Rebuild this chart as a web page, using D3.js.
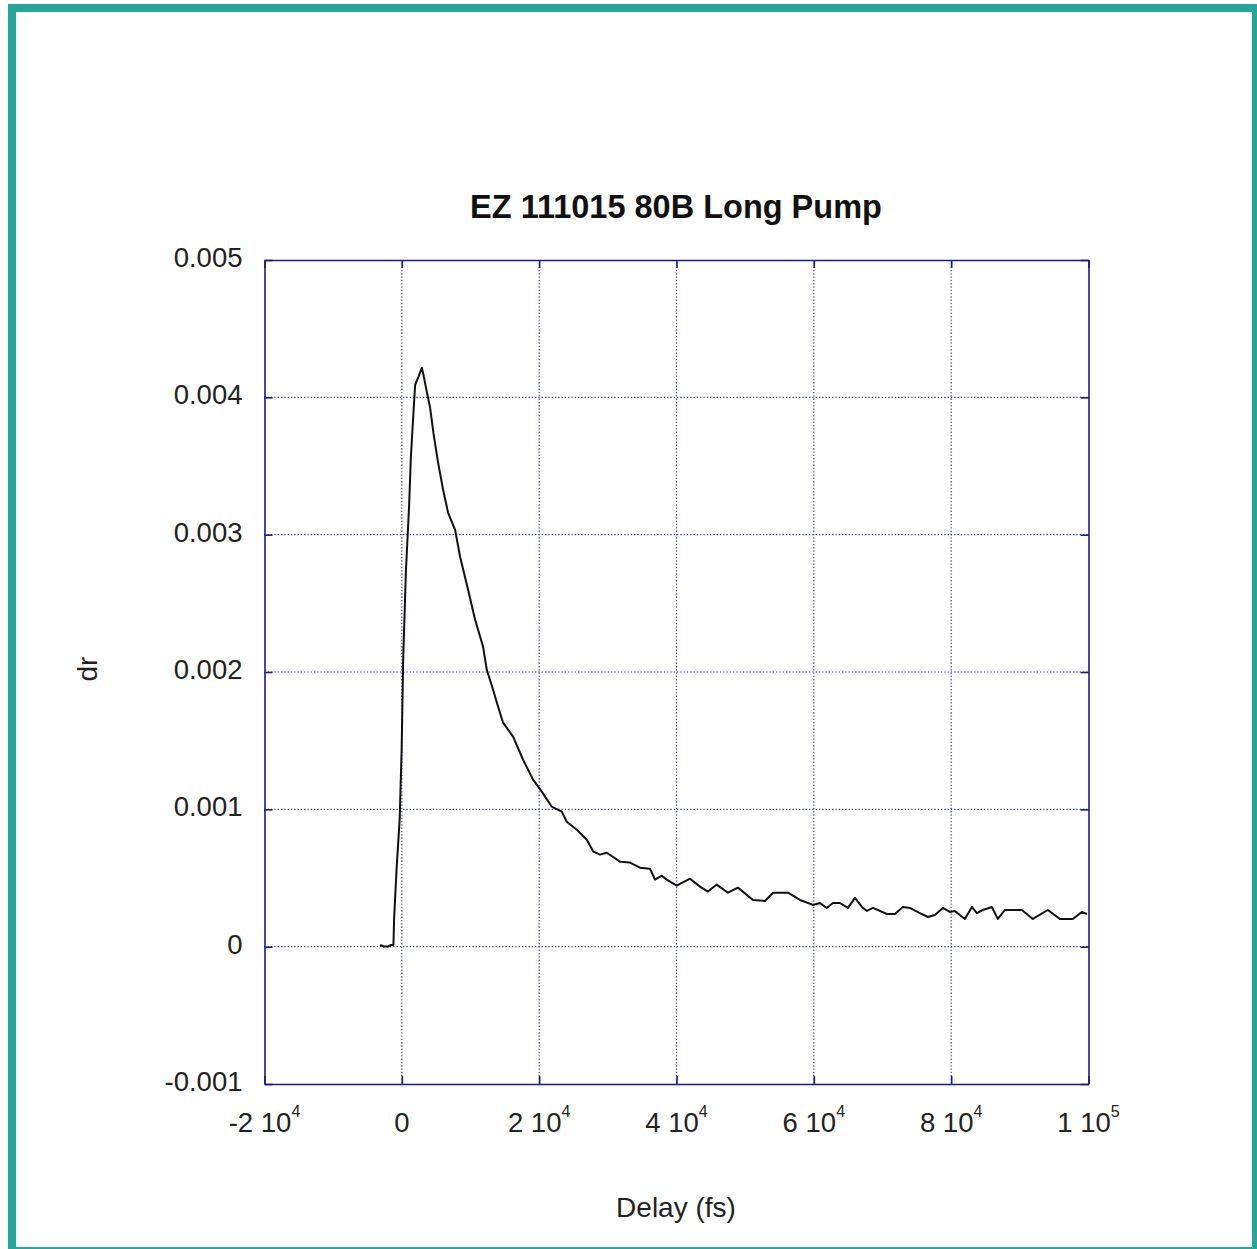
<!DOCTYPE html>
<html><head><meta charset="utf-8">
<script src="https://cdn.jsdelivr.net/npm/d3@7"></script>
<style>
html,body{margin:0;padding:0;background:#fff;}
svg{display:block;}
</style>
</head><body>
<script>
// ---- data ----
const title = "EZ 111015 80B Long Pump";
const xLabel = "Delay (fs)";
const yLabel = "dr";
const xTicks = [-20000, 0, 20000, 40000, 60000, 80000, 100000];
const xTickMant = ["-2", "0", "2", "4", "6", "8", "1"];
const xTickExp = ["4", "", "4", "4", "4", "4", "5"];
const yTicks = [-0.001, 0, 0.001, 0.002, 0.003, 0.004, 0.005];
const yTickLabels = ["-0.001", "0", "0.001", "0.002", "0.003", "0.004", "0.005"];
const delay = [-3159,-2576,-1994,-1557,-1223,-1121,-757,-320,-29,189,582,1063,1310,1689,1936,2416,2911,3144,3639,4119,4600,5284,6011,6740,7758,8486,9650,10669,11834,12373,13290,14018,14746,16201,17657,19113,20378,21834,23290,24017,25473,26929,27890,28865,29840,31776,33232,34688,36143,36871,37846,38574,40029,41965,43421,44586,45852,47497,48952,51136,52883,54047,56230,57977,59869,60888,61864,62781,63800,64964,65983,67002,67730,68603,70641,71806,72970,73989,75445,76609,77628,78793,79812,80539,81995,83014,83742,84615,85925,86798,87817,90292,91893,94076,95823,97715,99025,99753];
const dr = [0.000012,0.0000015,0.000002,0.000012,0.000012,0.000209,0.000573,0.000923,0.001432,0.002073,0.002721,0.003216,0.003559,0.003886,0.004090,0.004149,0.004215,0.004164,0.004040,0.003924,0.003741,0.003523,0.003327,0.003159,0.003035,0.002839,0.002599,0.002381,0.002184,0.002016,0.001871,0.001747,0.001631,0.001529,0.001361,0.001216,0.001129,0.001019,0.000983,0.000910,0.000852,0.000779,0.000692,0.000670,0.000684,0.000619,0.000612,0.000575,0.000568,0.000488,0.000517,0.000488,0.000444,0.000495,0.000437,0.000401,0.000452,0.000393,0.000430,0.000340,0.000333,0.000393,0.000393,0.000340,0.000304,0.000318,0.000282,0.000318,0.000318,0.000282,0.000355,0.000289,0.000260,0.000282,0.000238,0.000238,0.000289,0.000282,0.000245,0.000216,0.000231,0.000282,0.000253,0.000260,0.000202,0.000289,0.000245,0.000267,0.000289,0.000202,0.000267,0.000267,0.000202,0.000267,0.000202,0.000202,0.000253,0.000238];

// ---- layout ----
const W = 1257, H = 1249;
const plot = {left: 264.5, top: 260, right: 1088.5, bottom: 1084};
const axisColor = "#1a1a8c";
const gridColor = "#3a3aa8";
const font = "'Liberation Sans', Arial, sans-serif";

const svg = d3.select("body").append("svg").attr("width", W).attr("height", H);
svg.append("rect").attr("width", W).attr("height", H).attr("fill", "#fff");
// frame
svg.append("rect").attr("x", 12).attr("y", 8).attr("width", 1244).attr("height", 1243)
  .attr("fill", "none").attr("stroke", "#26a69a").attr("stroke-width", 8);

const x = d3.scaleLinear().domain([-20000, 100000]).range([plot.left, plot.right]);
const y = d3.scaleLinear().domain([-0.001, 0.005]).range([plot.bottom, plot.top]);

const g = svg.append("g");
// grid
g.append("g").selectAll("line").data(xTicks.slice(1, -1)).join("line")
  .attr("x1", d => x(d)).attr("x2", d => x(d)).attr("y1", plot.top).attr("y2", plot.bottom)
  .attr("stroke", gridColor).attr("stroke-width", 1.2).attr("stroke-dasharray", "1.3,2");
g.append("g").selectAll("line").data(yTicks.slice(1, -1)).join("line")
  .attr("y1", d => y(d)).attr("y2", d => y(d)).attr("x1", plot.left).attr("x2", plot.right)
  .attr("stroke", gridColor).attr("stroke-width", 1.2).attr("stroke-dasharray", "1.3,2");

// axes with inward ticks (bottom/top/left/right)
const tl = 8;
const axB = d3.axisBottom(x).tickValues(xTicks).tickSizeInner(-tl).tickSizeOuter(0).tickFormat("");
const axT = d3.axisTop(x).tickValues(xTicks).tickSizeInner(-tl).tickSizeOuter(0).tickFormat("");
const axL = d3.axisLeft(y).tickValues(yTicks).tickSizeInner(-tl).tickSizeOuter(0).tickFormat("");
const axR = d3.axisRight(y).tickValues(yTicks).tickSizeInner(-tl).tickSizeOuter(0).tickFormat("");
function styleAx(sel) {
  sel.selectAll("path,line").attr("stroke", axisColor).attr("stroke-width", 1.6);
}
svg.append("g").attr("transform", `translate(0,${plot.bottom})`).call(axB).call(styleAx);
svg.append("g").attr("transform", `translate(0,${plot.top})`).call(axT).call(styleAx);
svg.append("g").attr("transform", `translate(${plot.left},0)`).call(axL).call(styleAx);
svg.append("g").attr("transform", `translate(${plot.right},0)`).call(axR).call(styleAx);

// data line
const pts = delay.map((d, i) => [d, dr[i]]);
svg.append("path").datum(pts)
  .attr("d", d3.line().x(d => x(d[0])).y(d => y(d[1])))
  .attr("fill", "none").attr("stroke", "#111").attr("stroke-width", 2)
  .attr("stroke-linejoin", "round");

// y tick labels
svg.append("g").selectAll("text").data(yTicks).join("text")
  .attr("x", plot.left - 22).attr("y", d => y(d) + 7)
  .attr("text-anchor", "end").attr("font-family", font).attr("font-size", 27.5)
  .attr("fill", "#222").text((d, i) => yTickLabels[i]);

// x tick labels with superscript
const xl = svg.append("g").selectAll("text").data(xTicks).join("text")
  .attr("x", d => x(d)).attr("y", 1132)
  .attr("text-anchor", "middle").attr("font-family", font).attr("font-size", 27.5)
  .attr("fill", "#222");
xl.each(function(d, i) {
  const t = d3.select(this);
  if (xTickExp[i]) {
    t.append("tspan").text(xTickMant[i] + " 10");
    t.append("tspan").attr("font-size", 16).attr("dy", -15).text(xTickExp[i]);
  } else {
    t.append("tspan").text(xTickMant[i]);
  }
});

// title
svg.append("text").attr("x", 676).attr("y", 218).attr("text-anchor", "middle")
  .attr("font-family", font).attr("font-size", 32.5).attr("font-weight", "bold")
  .attr("fill", "#111").text(title);

// axis labels
svg.append("text").attr("x", 676).attr("y", 1217).attr("text-anchor", "middle")
  .attr("font-family", font).attr("font-size", 28).attr("fill", "#222").text(xLabel);
svg.append("text").attr("transform", "translate(97,669) rotate(-90)").attr("text-anchor", "middle")
  .attr("font-family", font).attr("font-size", 28).attr("fill", "#222").text(yLabel);
</script>
</body></html>
